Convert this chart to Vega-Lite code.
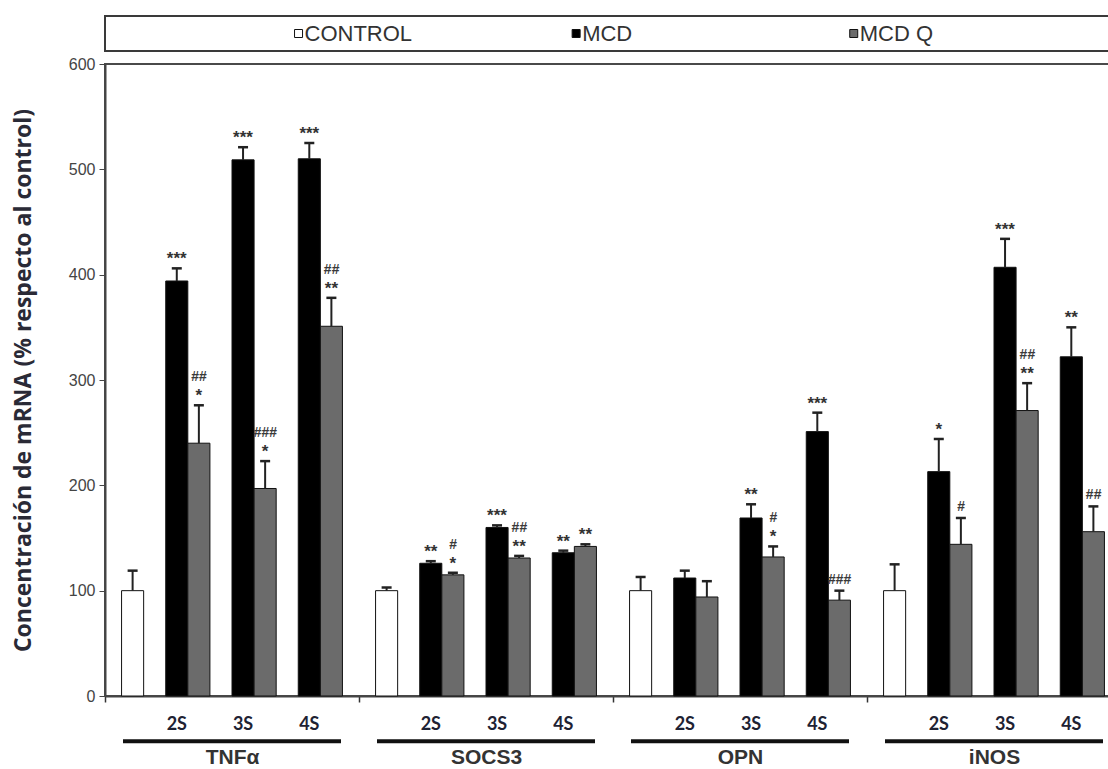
{
  "$schema": "https://vega.github.io/schema/vega-lite/v6.json",
  "padding": {"left": 11, "top": 15, "right": 0, "bottom": 0},
  "background": "white",
  "spacing": 3,
  "vconcat": [
    {
      "width": 1016,
      "height": 35,
      "view": {"stroke": "#3a3a3a", "strokeWidth": 2},
      "data": {"values": [{"series": "CONTROL"}, {"series": "MCD"}, {"series": "MCD Q"}]},
      "encoding": {
        "x": {"field": "series", "type": "nominal", "scale": {"type": "point", "padding": 0.83, "align": 0.42}, "axis": null}
      },
      "layer": [
        {
          "mark": {"type": "square", "size": 64, "stroke": "#111111", "strokeWidth": 1, "opacity": 1},
          "encoding": {
            "color": {"field": "series", "type": "nominal", "scale": {"domain": ["CONTROL", "MCD", "MCD Q"], "range": ["#ffffff", "#000000", "#6b6b6b"]}, "legend": null}
          }
        },
        {
          "mark": {"type": "text", "align": "left", "dx": 6, "fontSize": 22, "font": "Liberation Sans", "color": "#333333"},
          "encoding": {"text": {"field": "series"}}
        }
      ]
    },
    {
      "width": 1016,
      "height": 632,
      "view": {"stroke": "#4a4a4a", "strokeWidth": 2},
      "data": {
        "values": [
          {"gene": "TNFα", "time": "C", "series": "CONTROL", "value": 100, "err": 19, "star": "", "hash": ""},
          {"gene": "TNFα", "time": "2S", "series": "MCD", "value": 394, "err": 12, "star": "***", "hash": ""},
          {"gene": "TNFα", "time": "2S", "series": "MCD Q", "value": 240, "err": 36, "star": "*", "hash": "##"},
          {"gene": "TNFα", "time": "3S", "series": "MCD", "value": 509, "err": 12, "star": "***", "hash": ""},
          {"gene": "TNFα", "time": "3S", "series": "MCD Q", "value": 197, "err": 26, "star": "*", "hash": "###"},
          {"gene": "TNFα", "time": "4S", "series": "MCD", "value": 510, "err": 15, "star": "***", "hash": ""},
          {"gene": "TNFα", "time": "4S", "series": "MCD Q", "value": 351, "err": 27, "star": "**", "hash": "##"},
          {"gene": "SOCS3", "time": "C", "series": "CONTROL", "value": 100, "err": 3, "star": "", "hash": ""},
          {"gene": "SOCS3", "time": "2S", "series": "MCD", "value": 126, "err": 2, "star": "**", "hash": ""},
          {"gene": "SOCS3", "time": "2S", "series": "MCD Q", "value": 115, "err": 2, "star": "*", "hash": "#"},
          {"gene": "SOCS3", "time": "3S", "series": "MCD", "value": 160, "err": 2, "star": "***", "hash": ""},
          {"gene": "SOCS3", "time": "3S", "series": "MCD Q", "value": 131, "err": 2, "star": "**", "hash": "##"},
          {"gene": "SOCS3", "time": "4S", "series": "MCD", "value": 136, "err": 2, "star": "**", "hash": ""},
          {"gene": "SOCS3", "time": "4S", "series": "MCD Q", "value": 142, "err": 2, "star": "**", "hash": ""},
          {"gene": "OPN", "time": "C", "series": "CONTROL", "value": 100, "err": 13, "star": "", "hash": ""},
          {"gene": "OPN", "time": "2S", "series": "MCD", "value": 112, "err": 7, "star": "", "hash": ""},
          {"gene": "OPN", "time": "2S", "series": "MCD Q", "value": 94, "err": 15, "star": "", "hash": ""},
          {"gene": "OPN", "time": "3S", "series": "MCD", "value": 169, "err": 13, "star": "**", "hash": ""},
          {"gene": "OPN", "time": "3S", "series": "MCD Q", "value": 132, "err": 10, "star": "*", "hash": "#"},
          {"gene": "OPN", "time": "4S", "series": "MCD", "value": 251, "err": 18, "star": "***", "hash": ""},
          {"gene": "OPN", "time": "4S", "series": "MCD Q", "value": 91, "err": 9, "star": "", "hash": "###"},
          {"gene": "iNOS", "time": "C", "series": "CONTROL", "value": 100, "err": 25, "star": "", "hash": ""},
          {"gene": "iNOS", "time": "2S", "series": "MCD", "value": 213, "err": 31, "star": "*", "hash": ""},
          {"gene": "iNOS", "time": "2S", "series": "MCD Q", "value": 144, "err": 25, "star": "", "hash": "#"},
          {"gene": "iNOS", "time": "3S", "series": "MCD", "value": 407, "err": 27, "star": "***", "hash": ""},
          {"gene": "iNOS", "time": "3S", "series": "MCD Q", "value": 271, "err": 26, "star": "**", "hash": "##"},
          {"gene": "iNOS", "time": "4S", "series": "MCD", "value": 322, "err": 28, "star": "**", "hash": ""},
          {"gene": "iNOS", "time": "4S", "series": "MCD Q", "value": 156, "err": 24, "star": "", "hash": "##"}
        ]
      },
      "transform": [
        {"calculate": "datum.series == 'CONTROL' ? 'C' : datum.time + ' ' + datum.series", "as": "slot"},
        {"calculate": "datum.value + datum.err", "as": "hi"}
      ],
      "encoding": {
        "x": {
          "field": "gene",
          "type": "nominal",
          "scale": {"domain": ["TNFα", "SOCS3", "OPN", "iNOS"], "paddingInner": 0, "paddingOuter": 0},
          "axis": {
            "title": null,
            "labelAngle": 0,
            "labelFont": "Liberation Sans",
            "labelFontWeight": "bold",
            "labelFontSize": 21,
            "labelColor": "#333333",
            "labelPadding": 44,
            "tickBand": "extent",
            "tickSize": 6,
            "tickColor": "#333333",
            "tickWidth": 1.5,
            "domainColor": "#444444",
            "domainWidth": 2
          }
        }
      },
      "layer": [
        {
          "mark": {"type": "bar", "stroke": "#111111", "strokeWidth": 1},
          "encoding": {
            "xOffset": {"field": "slot", "type": "nominal", "scale": {"domain": ["C", "g1", "2S MCD", "2S MCD Q", "g2", "3S MCD", "3S MCD Q", "g3", "4S MCD", "4S MCD Q"], "paddingInner": 0, "paddingOuter": 0.75}},
            "y": {
              "field": "value",
              "type": "quantitative",
              "scale": {"domain": [0, 600], "nice": false},
              "axis": {
                "title": "Concentración de mRNA (% respecto al control)",
                "titleFont": "Open Sans",
                "titleFontSize": 23,
                "titleFontWeight": "bold",
                "titleColor": "#2a2a36",
                "titlePadding": 33,
                "values": [0, 100, 200, 300, 400, 500, 600],
                "labelFont": "Liberation Sans",
                "labelFontSize": 16,
                "labelColor": "#444444",
                "labelPadding": 4,
                "tickSize": 6,
                "tickColor": "#444444",
                "domainColor": "#444444",
                "domainWidth": 2,
                "grid": false
              }
            },
            "color": {"field": "series", "type": "nominal", "scale": {"domain": ["CONTROL", "MCD", "MCD Q"], "range": ["#ffffff", "#000000", "#6b6b6b"]}, "legend": null}
          }
        },
        {
          "mark": {"type": "rule", "color": "#222222", "strokeWidth": 2},
          "encoding": {
            "xOffset": {"field": "slot", "type": "nominal"},
            "y": {"field": "value", "type": "quantitative"},
            "y2": {"field": "hi"}
          }
        },
        {
          "mark": {"type": "tick", "color": "#222222", "thickness": 2.5, "size": 10, "opacity": 1},
          "encoding": {
            "xOffset": {"field": "slot", "type": "nominal"},
            "y": {"field": "hi", "type": "quantitative"}
          }
        },
        {
          "transform": [{"filter": "datum.star != ''"}],
          "mark": {"type": "text", "baseline": "bottom", "dy": 0, "fontSize": 17, "fontWeight": "bold", "font": "Liberation Sans", "color": "#333333"},
          "encoding": {
            "xOffset": {"field": "slot", "type": "nominal"},
            "y": {"field": "hi", "type": "quantitative"},
            "text": {"field": "star"}
          }
        },
        {
          "transform": [{"filter": "datum.hash != '' && datum.star != ''"}],
          "mark": {"type": "text", "baseline": "bottom", "dy": -21, "fontSize": 14, "fontStyle": "italic", "fontWeight": "bold", "font": "Liberation Sans", "color": "#3a3a3a"},
          "encoding": {
            "xOffset": {"field": "slot", "type": "nominal"},
            "y": {"field": "hi", "type": "quantitative"},
            "text": {"field": "hash"}
          }
        },
        {
          "transform": [{"filter": "datum.hash != '' && datum.star == ''"}],
          "mark": {"type": "text", "baseline": "bottom", "dy": -4, "fontSize": 14, "fontStyle": "italic", "fontWeight": "bold", "font": "Liberation Sans", "color": "#3a3a3a"},
          "encoding": {
            "xOffset": {"field": "slot", "type": "nominal"},
            "y": {"field": "hi", "type": "quantitative"},
            "text": {"field": "hash"}
          }
        },
        {
          "transform": [{"filter": "datum.series == 'MCD'"}],
          "mark": {"type": "text", "baseline": "middle", "fontSize": 18, "fontWeight": "bold", "font": "Lato", "color": "#1e2233"},
          "encoding": {
            "xOffset": {"field": "slot", "type": "nominal"},
            "y": {"datum": -27.5, "type": "quantitative"},
            "text": {"field": "time"}
          }
        },
        {
          "transform": [{"filter": "datum.series == 'CONTROL'"}],
          "mark": {"type": "tick", "color": "#111111", "thickness": 4, "size": 218, "opacity": 1},
          "encoding": {
            "y": {"datum": -43, "type": "quantitative"}
          }
        }
      ]
    }
  ]
}
